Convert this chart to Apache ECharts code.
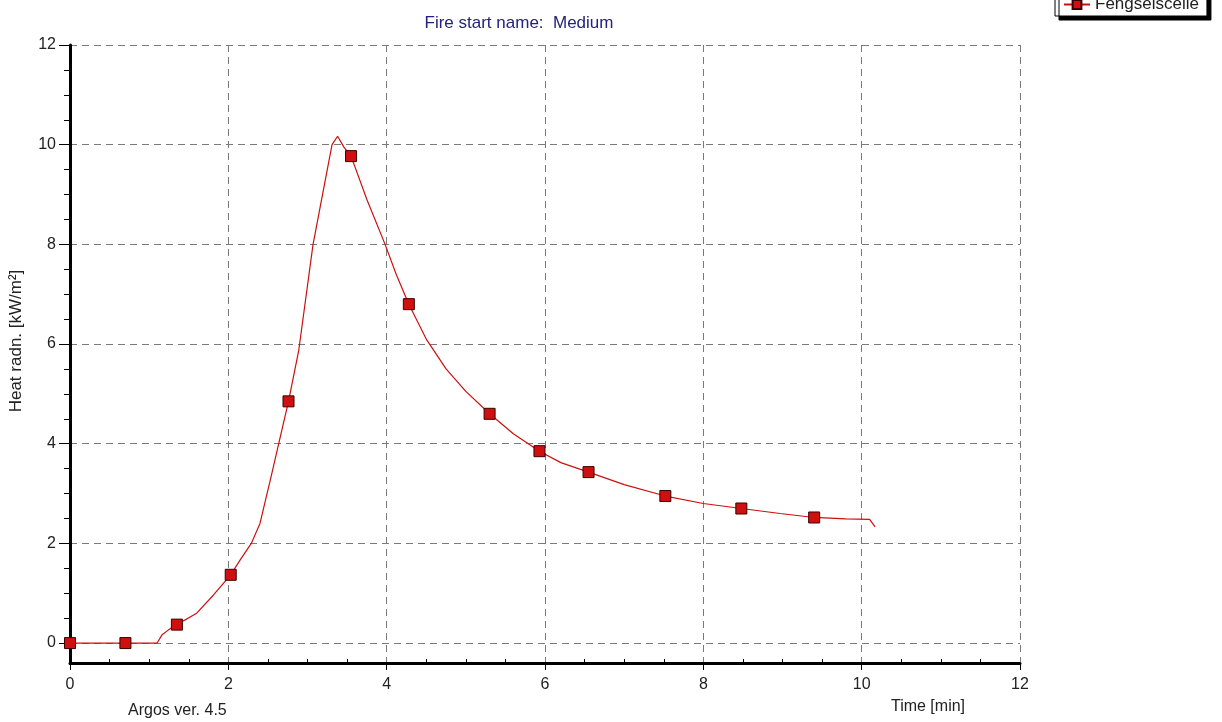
<!DOCTYPE html>
<html>
<head>
<meta charset="utf-8">
<script src="https://cdn.jsdelivr.net/npm/echarts@6/dist/echarts.min.js"></script>
<style>html,body{margin:0;padding:0;background:#fff;}#c{width:1222px;height:722px;}</style>
</head>
<body>
<div id="c"></div>
<script>
// ---- data ----
var seriesName = 'Fengselscelle';
var markerTime = [0, 0.7, 1.35, 2.03, 2.76, 3.55, 4.28, 5.3, 5.93, 6.55, 7.52, 8.48, 9.4];
var markerHeat = [0, 0, 0.37, 1.37, 4.85, 9.77, 6.8, 4.6, 3.85, 3.43, 2.95, 2.7, 2.52];
var curveTime = [1.1, 1.16, 1.24, 1.6, 1.81, 2.15, 2.29, 2.4, 2.48, 2.53, 2.89, 3.07, 3.31, 3.38, 3.46, 3.75, 3.98, 4.12, 4.5, 4.75, 5.0, 5.6, 6.2, 7.0, 8.0, 8.97, 9.8, 10.1, 10.17];
var curveHeat = [0, 0.16, 0.26, 0.6, 0.96, 1.67, 2.0, 2.4, 2.94, 3.27, 5.88, 8.0, 10.0, 10.17, 9.95, 8.9, 8.0, 7.4, 6.1, 5.5, 5.05, 4.2, 3.62, 3.18, 2.8, 2.6, 2.49, 2.48, 2.33];
var xTicks = [0, 2, 4, 6, 8, 10, 12];
var yTicks = [0, 2, 4, 6, 8, 10, 12];
var yMinorTicks = [0.5, 1, 1.5, 2.5, 3, 3.5, 4.5, 5, 5.5, 6.5, 7, 7.5, 8.5, 9, 9.5, 10.5, 11, 11.5];
var titleText = 'Fire start name:  Medium';
var footText = 'Argos ver. 4.5';
var xName = 'Time [min]';
var yName = 'Heat radn. [kW/m²]';

// merge curve + marker points into one ordered line
var pts = [];
markerTime.forEach(function (t, i) { pts.push({ value: [t, markerHeat[i]], m: true }); });
curveTime.forEach(function (t, i) { pts.push({ value: [t, curveHeat[i]], m: false }); });
pts.sort(function (a, b) { return a.value[0] - b.value[0]; });
var lineData = pts.map(function (p) {
  return p.m ? { value: p.value } : { value: p.value, symbol: 'none' };
});

var FONT = '"Liberation Sans", Arial, sans-serif';
var dash = { color: '#7a7a7a', width: 1, type: [7, 5] };

var chart = echarts.init(document.getElementById('c'), null, { renderer: 'canvas' });
chart.setOption({
  animation: false,
  backgroundColor: '#ffffff',
  textStyle: { fontFamily: FONT },
  title: [
    { text: titleText, left: 514, top: 10, textAlign: 'center',
      textStyle: { fontSize: 17, fontWeight: 'normal', color: '#23237a', fontFamily: FONT } },
    { text: footText, left: 123, top: 698,
      textStyle: { fontSize: 16, fontWeight: 'normal', color: '#222', fontFamily: FONT } }
  ],
  legend: {
    data: [seriesName],
    left: 1055, top: -7,
    padding: [3, 8],
    itemWidth: 26, itemHeight: 11,
    backgroundColor: '#ffffff',
    borderColor: '#000', borderWidth: 1,
    shadowColor: '#000', shadowBlur: 0, shadowOffsetX: 4, shadowOffsetY: 4,
    textStyle: { fontSize: 17, color: '#222', fontFamily: FONT }
  },
  grid: { left: 70, right: 202, top: 45, bottom: 59, containLabel: false },
  xAxis: {
    type: 'value', min: 0, max: 12, interval: 2,
    name: xName, nameLocation: 'middle', nameGap: 36,
    nameTextStyle: { fontSize: 16, color: '#222', padding: [0, 0, 0, 766], fontFamily: FONT },
    axisLine: { show: true, onZero: false, lineStyle: { color: '#000', width: 3 } },
    axisTick: { show: true, length: 7, lineStyle: { color: '#000', width: 1 } },
    minorTick: { show: true, splitNumber: 4, length: -4, lineStyle: { color: '#000', width: 1 } },
    axisLabel: { fontSize: 16, color: '#222', margin: 14, customValues: xTicks },
    splitLine: { show: true, lineStyle: dash }
  },
  yAxis: [
    {
      type: 'value', min: -0.4, max: 12,
      name: yName, nameLocation: 'middle', nameGap: 45, nameRotate: 90,
      nameTextStyle: { fontSize: 17, color: '#222', fontFamily: FONT, padding: [0, 0, 0, 26] },
      axisLine: { show: true, onZero: false, lineStyle: { color: '#000', width: 3 } },
      axisTick: { show: true, length: 11, customValues: yTicks, lineStyle: { color: '#000', width: 1 } },
      axisLabel: { fontSize: 16, color: '#222', margin: 14, customValues: yTicks },
      splitLine: { show: true, lineStyle: dash }
    },
    {
      type: 'value', min: -0.4, max: 12, position: 'left',
      axisLine: { show: false },
      axisTick: { show: true, length: 6, customValues: yMinorTicks, lineStyle: { color: '#000', width: 1 } },
      axisLabel: { show: false },
      splitLine: { show: false }
    }
  ],
  series: [{
    name: seriesName,
    type: 'line',
    data: lineData,
    symbol: 'rect',
    symbolSize: 11,
    showSymbol: true,
    showAllSymbol: true,
    smooth: false,
    lineStyle: { color: '#cc1010', width: 1.2 },
    itemStyle: { color: '#d01010', borderColor: '#3a0000', borderWidth: 1 },
    z: 5
  }]
});
</script>
</body>
</html>
